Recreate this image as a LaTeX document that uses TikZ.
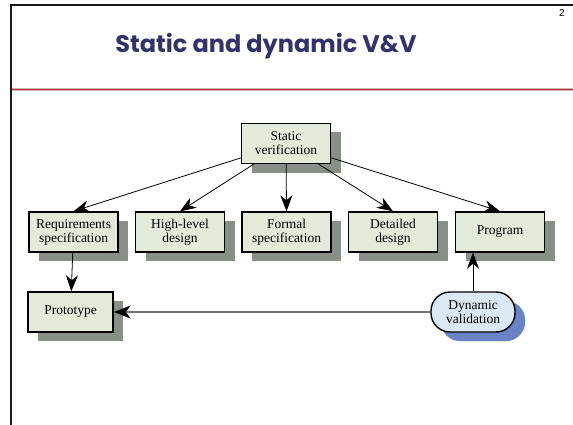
\documentclass[tikz,border=0pt]{standalone}
\usepackage{fontspec}
\setmainfont{Liberation Serif}
\newfontfamily\titlefont{Poppins}
\newfontfamily\pagefont{Liberation Sans}
\usetikzlibrary{arrows.meta,shadows}

\definecolor{boxfill}{HTML}{E3EADA}
\definecolor{boxshadow}{HTML}{878F87}
\definecolor{dynfill}{HTML}{DCE7F6}
\definecolor{dynshadow}{HTML}{6A82C6}
\definecolor{titleblue}{HTML}{33336B}
\definecolor{rulered}{HTML}{A8353B}

\tikzset{
  box/.style={draw=black, line width=1.4pt, fill=boxfill, minimum width=89pt,
    minimum height=40pt, align=center, inner sep=1pt,
    font=\fontsize{13.5}{14}\selectfont,
    drop shadow={shadow xshift=10pt, shadow yshift=-9pt, fill=boxshadow, opacity=1}},
  dynbox/.style={box, fill=dynfill, rounded corners=19pt, minimum width=84pt,
    drop shadow={shadow xshift=10pt, shadow yshift=-9pt, fill=dynshadow, opacity=1}},
  arrow/.style={-{Stealth[length=16pt,width=12pt,inset=5pt]}, line width=0.8pt}
}

\begin{document}
\begin{tikzpicture}[x=1pt,y=-1pt]
  \useasboundingbox (0,0) rectangle (573,425);
  % slide frame
  \draw[line width=2.4pt, black!90] (11,425) -- (11,5) -- (573,5);
  \draw[line width=3.5pt, rulered!40] (12,89.5) -- (573,89.5);
  \draw[line width=1.6pt, rulered] (12,89.5) -- (573,89.5);
  \node (num) at (562,13) {\pagefont\fontsize{10}{11}\selectfont 2};
  \node[text=titleblue] (title) at (266,46)
    {\titlefont\bfseries\fontsize{24}{27}\selectfont Static and dynamic V\&V};

  % boxes
  \node[box] (static) at (286,143.5) {Static\\verification};
  \node[box] (req) at (73.5,232) {Requirements\\specification};
  \node[box] (high) at (180,232) {High-level\\design};
  \node[box] (formal) at (286.5,232) {Formal\\specification};
  \node[box] (detail) at (393,232) {Detailed\\design};
  \node[box] (prog) at (500,232) {Program};
  \node[box, minimum width=85pt] (proto) at (70.5,312) {Prototype};
  \node[dynbox] (dyn) at (473,312) {Dynamic\\validation};

  % connectors
  \foreach \t in {req,high,formal,detail,prog}
    \draw[arrow] (static) -- (\t.north);
  \draw[arrow] (req) -- (proto);
  \draw[arrow] (dyn.north) -- (dyn.north |- prog.south);
  \draw[line width=1.6pt, black!55,
    -{Stealth[length=17pt,width=13pt,inset=5pt,color=black]}] (dyn) -- (proto);
\end{tikzpicture}
\end{document}
